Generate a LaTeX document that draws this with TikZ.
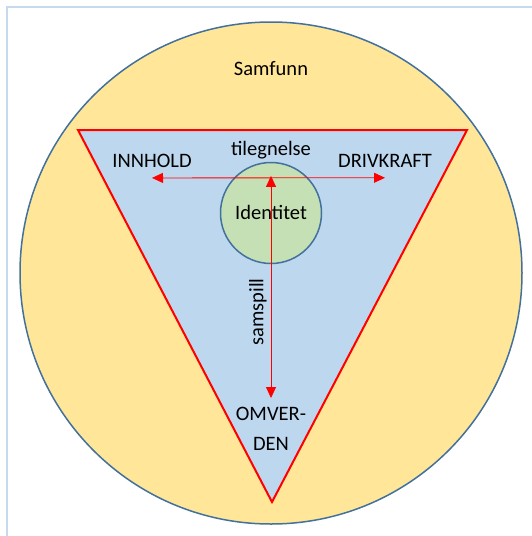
\documentclass[tikz,border=0pt]{standalone}
\usepackage{fontspec}
\setmainfont{Carlito}
\usepackage{xcolor}
\usepackage{tikz}
\usetikzlibrary{arrows.meta, positioning, shapes.geometric}
\definecolor{ringblue}{HTML}{41719C}
\definecolor{sandfill}{HTML}{FFE699}
\definecolor{skyfill}{HTML}{BDD7EE}
\definecolor{leaffill}{HTML}{C5E0B4}
\definecolor{framecol}{HTML}{C5DAF0}
\tikzstyle{arrow} = [red, line width=0.8pt, {Triangle[length=11pt,width=10pt]}-{Triangle[length=11pt,width=10pt]}]
\tikzstyle{word} = [inner sep=0pt, font=\fontsize{20.5}{30}\selectfont, align=center]
\tikzstyle{ring} = [circle, draw=ringblue, line width=1.5pt, inner sep=0pt]

\begin{document}
\begin{tikzpicture}[x=1pt, y=-1pt]
    \useasboundingbox (0,0) rectangle (532,536);
    \draw[framecol, line width=2pt] (6.5,536) -- (6.5,6.5) -- (532,6.5);
    \node[ring, fill=sandfill, minimum size=502pt] (samfunn) at (271,273) {};
    \coordinate (tl) at (78,130);
    \coordinate (tr) at (467,130);
    \coordinate (tip) at (272,502);
    \draw[red, line width=2pt, fill=skyfill] (tl) -- (tr) -- (tip) -- cycle;
    \node[ring, fill=leaffill, minimum size=101pt] (identitet) at (271,213) {};
    \node[word, anchor=base] (samfunnlbl) at (271,75) {Samfunn};
    \node[word, anchor=base] (identitetlbl) at (271,219) {Identitet};
    \node[word, anchor=base] (tilegnelse) at (271,155) {tilegnelse};
    \node[word] (innhold) at (152,161) {INNHOLD};
    \node[word] (drivkraft) at (385,161) {DRIVKRAFT};
    \node[word, anchor=north] (omverden) at (271,407) {OMVER-\\DEN};
    \node[word, rotate=90] (samspill) at (258,312) {samspill};
    \coordinate[below=10pt of innhold] (innholdtip);
    \coordinate[below=10pt of drivkraft] (drivkrafttip);
    \coordinate (hub) at (identitet.center |- innholdtip);
    \coordinate[above=9pt of omverden] (omverdentip);
    \draw[arrow] (innholdtip) -- (drivkrafttip);
    \draw[arrow] ([yshift=2pt]hub) -- (omverdentip);
\end{tikzpicture}
\end{document}
